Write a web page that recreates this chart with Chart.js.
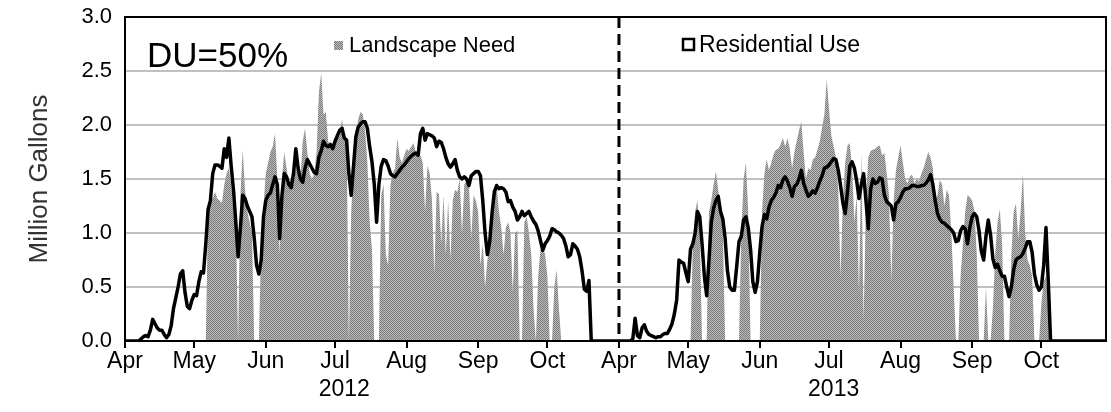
<!DOCTYPE html>
<html>
<head>
<meta charset="utf-8">
<script src="https://cdn.jsdelivr.net/npm/chart.js@4/dist/chart.umd.min.js"></script>
<style>
  html, body { margin: 0; padding: 0; background: #fff; }
  #wrap { width: 1111px; height: 412px; }
</style>
</head>
<body>
<div id="wrap"><canvas id="chart" width="1111" height="412"></canvas></div>
<script>
// Shared day axis: 1 Apr - 31 Oct 2012 (days 0-213), then 1 Apr 2013 onward (day 214+)
const seasonStart2013 = 214;
const axisEnd = 425;

const monthTicks  = [0, 30, 61, 91, 122, 153, 183, 214, 244, 275, 305, 336, 367, 397];
const monthLabels = ['Apr', 'May', 'Jun', 'Jul', 'Aug', 'Sep', 'Oct', 'Apr', 'May', 'Jun', 'Jul', 'Aug', 'Sep', 'Oct'];
const yearTicks   = [95, 307];
const yearLabels  = ['2012', '2013'];

// Daily landscape water need, million gallons (2012 season)
const need2012 = [
  0,0,0,0,0,0,0,0,0,0,
  0,0,0,0,0,0,0,0,0,0,
  0,0,0,0,0,0,0,0,0,0,
  0,0,0,0,0,0,1.2,1.3,1.32,1.38,
  1.32,1.3,1.28,1.45,1.55,1.6,1.45,1.2,1.1,0,
  1.35,1.77,1.4,1.2,1.1,1.0,0,0,0,0.9,
  1.25,1.55,1.65,1.75,1.8,1.92,1.5,0.8,1.5,1.75,
  1.6,1.45,1.5,1.45,1.62,1.55,1.5,1.85,1.97,1.75,
  1.55,1.5,1.55,1.75,2.3,2.48,2.1,2.12,1.85,1.8,
  1.82,1.85,1.88,1.9,2.05,1.92,1.85,0,1.2,1.6,
  1.85,2.05,2.12,2.1,1.95,1.65,1.1,0.85,0,0,
  0,1.35,1.45,0.8,0.7,1.45,1.55,1.6,1.88,1.7,
  1.65,1.72,1.78,1.76,1.8,1.83,1.75,1.7,1.72,1.65,
  1.2,1.62,1.55,1.3,0.62,1.38,1.36,0.9,1.35,0.8,
  1.3,0.75,1.3,1.4,1.38,1.5,1.0,1.45,1.48,1.45,
  0.95,1.35,1.3,1.2,0.7,0.9,0.5,0.75,0.85,1.1,
  1.35,1.45,1.2,1.05,0.8,1.05,1.1,1.0,0.45,1.0,
  1.02,0,0,1.1,1.15,1.0,0.8,0.3,0,0.6,
  0.85,0.87,0.8,0.6,0,0,0.5,0.66,0.3,0,
  0,0,0,0,0,0,0,0,0,0,
  0,0,0,0,0,0,0,0,0,0,
  0,0,0,0
];

// Daily residential water use, million gallons (2012 season)
const use2012 = [
  0,0,0,0,0,0,0,0.02,0.04,0.05,
  0.04,0.1,0.2,0.16,0.12,0.1,0.1,0.06,0.03,0.06,
  0.14,0.3,0.4,0.5,0.62,0.65,0.45,0.32,0.3,0.38,
  0.43,0.42,0.55,0.64,0.63,0.9,1.22,1.3,1.55,1.63,
  1.63,1.62,1.6,1.78,1.7,1.88,1.62,1.4,1.1,0.78,
  1.05,1.35,1.32,1.25,1.2,1.15,0.95,0.7,0.62,0.75,
  1.15,1.3,1.35,1.37,1.45,1.52,1.45,0.95,1.35,1.55,
  1.52,1.45,1.42,1.55,1.78,1.6,1.5,1.47,1.6,1.68,
  1.64,1.6,1.56,1.55,1.7,1.76,1.85,1.81,1.8,1.82,
  1.78,1.85,1.9,1.95,1.97,1.88,1.86,1.55,1.35,1.62,
  1.89,1.98,2.01,2.03,2.03,1.97,1.8,1.66,1.45,1.1,
  1.45,1.62,1.68,1.67,1.62,1.55,1.53,1.52,1.55,1.58,
  1.61,1.63,1.66,1.69,1.71,1.73,1.74,1.72,1.92,1.97,
  1.86,1.92,1.91,1.9,1.88,1.8,1.85,1.84,1.78,1.7,
  1.64,1.61,1.64,1.68,1.58,1.52,1.5,1.52,1.5,1.44,
  1.53,1.55,1.57,1.57,1.53,1.3,1.0,0.8,0.92,1.18,
  1.38,1.44,1.41,1.42,1.41,1.38,1.29,1.3,1.24,1.2,
  1.12,1.15,1.2,1.16,1.18,1.2,1.15,1.11,1.08,1.02,
  0.93,0.84,0.9,0.93,0.97,1.04,1.03,1.01,1.0,0.98,
  0.95,0.88,0.78,0.8,0.9,0.88,0.85,0.78,0.65,0.48,
  0.46,0.56,0,0,0,0,0,0,0,0,
  0,0,0,0
];

// Daily landscape water need, million gallons (2013 season)
const need2013 = [
  0,0,0,0,0,0,0,0,0,0,
  0,0,0,0,0,0,0,0,0,0,
  0,0,0,0,0,0,0,0,0,0,
  0,0,0.9,1.2,1.3,1.0,0,0,0,1.2,
  1.3,1.45,1.57,1.4,1.25,1.0,0,0,0,0,
  0,0,0,1.0,1.5,1.65,1.2,0,0,0,
  0,0,1.2,1.55,1.68,1.58,1.65,1.73,1.77,1.78,
  1.82,1.88,1.8,1.88,1.78,1.6,1.75,1.85,1.95,2.03,
  1.75,1.5,1.6,1.58,1.68,1.7,1.77,1.85,1.98,2.1,
  2.42,2.15,1.9,1.8,1.7,1.4,0.6,1.3,1.65,1.81,
  1.83,1.6,1.1,1.35,0.45,1.75,0.19,1.3,1.7,1.76,
  1.77,1.78,1.8,1.81,1.72,1.74,1.55,1.35,0.55,1.3,
  1.58,1.7,1.81,1.65,1.5,1.46,1.52,1.54,1.46,1.5,
  1.48,1.55,1.6,1.68,1.75,1.7,1.6,1.3,1.35,1.49,
  1.45,1.25,1.4,1.35,1.0,0.5,0,0,0.6,0.9,
  1.2,1.35,1.33,1.3,1.2,0.8,0,0,0,0.5,
  0,0,0.3,0.8,1.1,1.22,0.9,0,0,0,
  0.8,1.2,1.27,0.95,1.2,1.55,1.0,0.75,0.7,0.6,
  0,0,0,0.35,0.55,0.6,0.3,0,0,0,
  0,0,0,0,0,0,0,0,0,0,
  0,0,0,0,0,0,0,0,0,0,
  0,0
];

// Daily residential water use, million gallons (2013 season)
const use2013 = [
  0,0,0,0,0,0,0.02,0.21,0.05,0.03,
  0.12,0.15,0.09,0.06,0.05,0.04,0.03,0.04,0.04,0.06,
  0.07,0.07,0.11,0.16,0.25,0.38,0.75,0.73,0.72,0.63,
  0.55,0.85,0.9,1.0,1.2,1.15,0.9,0.6,0.42,0.75,
  1.1,1.23,1.3,1.34,1.2,1.13,0.95,0.65,0.5,0.47,
  0.47,0.69,0.92,0.97,1.12,1.15,1.05,0.85,0.55,0.45,
  0.55,0.82,1.06,1.17,1.13,1.24,1.3,1.33,1.37,1.44,
  1.42,1.49,1.52,1.48,1.42,1.34,1.43,1.45,1.5,1.58,
  1.46,1.4,1.34,1.36,1.39,1.37,1.42,1.48,1.53,1.6,
  1.61,1.63,1.66,1.69,1.68,1.58,1.44,1.28,1.18,1.38,
  1.62,1.66,1.6,1.48,1.32,1.45,1.55,1.3,1.04,1.4,
  1.5,1.46,1.47,1.51,1.5,1.35,1.29,1.27,1.25,1.12,
  1.27,1.29,1.33,1.38,1.41,1.41,1.42,1.44,1.44,1.43,
  1.43,1.44,1.44,1.46,1.49,1.54,1.45,1.3,1.18,1.13,
  1.1,1.09,1.07,1.05,1.03,1.0,0.92,0.93,1.02,1.06,
  1.04,0.9,1.05,1.15,1.18,1.15,1.02,0.83,0.75,0.97,
  1.12,0.98,0.76,0.68,0.71,0.65,0.6,0.6,0.5,0.41,
  0.5,0.66,0.75,0.77,0.78,0.81,0.86,0.92,0.92,0.82,
  0.62,0.52,0.47,0.5,0.7,1.05,0.55,0,0,0,
  0,0,0,0,0,0,0,0,0,0,
  0,0,0,0,0,0,0,0,0,0,
  0,0
];

const FONT = "'Liberation Sans', Arial, sans-serif";
Chart.defaults.font.family = FONT;

const canvas = document.getElementById('chart');
const ctx = canvas.getContext('2d');

// Fine dotted grey fill for the landscape-need area
function dotPattern() {
  const tile = document.createElement('canvas');
  tile.width = 2; tile.height = 2;
  const g = tile.getContext('2d');
  g.fillStyle = '#bdbdbd'; g.fillRect(0, 0, 2, 2);
  g.fillStyle = '#7a7a7a'; g.fillRect(0, 0, 1, 1); g.fillRect(1, 1, 1, 1);
  return ctx.createPattern(tile, 'repeat');
}
const needFill = dotPattern();

const toPoints = (values, offset) => values.map((v, i) => ({ x: i + offset, y: v }));
const needPoints = toPoints(need2012, 0).concat(toPoints(need2013, seasonStart2013));
const usePoints  = toPoints(use2012, 0).concat(toPoints(use2013, seasonStart2013));

// Plot frame, in-plot legend and the DU annotation
const overlay = {
  id: 'overlay',
  afterDatasetsDraw(chart) {
    const { ctx: c, chartArea: a } = chart;
    c.save();
    c.strokeStyle = '#000';
    c.lineWidth = 2;
    c.strokeRect(a.left, a.top, a.right - a.left, a.bottom - a.top);
    c.restore();
  },
  afterDraw(chart) {
    const { ctx: c, chartArea: a } = chart;
    const ds = chart.data.datasets;
    c.save();
    c.fillStyle = '#000';
    c.textBaseline = 'alphabetic';
    c.font = '35px ' + FONT;
    c.fillText('DU=50%', a.left + 22, a.top + 50);

    c.textBaseline = 'middle';
    c.font = '22px ' + FONT;
    c.fillStyle = needFill;
    c.fillRect(a.left + 209, a.top + 24, 9, 9);
    c.fillStyle = '#000';
    c.fillText(ds[1].label, a.left + 224, a.top + 29);

    c.font = '23px ' + FONT;
    c.strokeStyle = '#000';
    c.lineWidth = 2.5;
    c.fillStyle = '#fff';
    c.fillRect(a.left + 558, a.top + 22, 11, 11);
    c.strokeRect(a.left + 558, a.top + 22, 11, 11);
    c.fillStyle = '#000';
    c.fillText(ds[0].label, a.left + 574, a.top + 29);
    c.restore();
  }
};

new Chart(ctx, {
  type: 'line',
  data: {
    datasets: [
      {
        label: 'Residential Use',
        data: usePoints,
        borderColor: '#000',
        borderWidth: 3.5,
        borderJoinStyle: 'round',
        pointRadius: 0,
        fill: false,
        tension: 0,
        order: 0
      },
      {
        label: 'Landscape Need',
        data: needPoints,
        backgroundColor: needFill,
        borderWidth: 0,
        pointRadius: 0,
        fill: 'origin',
        tension: 0,
        order: 2
      },
      {
        label: 'season divider',
        data: [{ x: seasonStart2013, y: 3 }, { x: seasonStart2013, y: 0 }],
        borderColor: '#000',
        borderWidth: 3,
        borderDash: [11, 6],
        pointRadius: 0,
        fill: false,
        order: 1
      }
    ]
  },
  options: {
    responsive: false,
    animation: false,
    devicePixelRatio: 1,
    layout: { padding: { left: 0, right: 5, top: 17, bottom: 0 } },
    plugins: { legend: { display: false }, tooltip: { enabled: false } },
    scales: {
      x: {
        type: 'linear',
        position: 'bottom',
        min: 0,
        max: axisEnd,
        afterBuildTicks: s => { s.ticks = monthTicks.map(v => ({ value: v })); },
        afterFit: s => { s.height = 32; },
        ticks: {
          autoSkip: false,
          maxRotation: 0,
          padding: 0,
          color: '#000',
          font: { size: 23 },
          callback: (v, i) => monthLabels[i]
        },
        grid: { drawOnChartArea: false, drawTicks: true, tickLength: 7, color: '#000', lineWidth: 2 },
        border: { display: false }
      },
      year: {
        type: 'linear',
        position: 'bottom',
        min: 0,
        max: axisEnd,
        afterBuildTicks: s => { s.ticks = yearTicks.map(v => ({ value: v })); },
        afterFit: s => { s.height = 39; },
        ticks: {
          autoSkip: false,
          maxRotation: 0,
          padding: 3,
          color: '#000',
          font: { size: 23 },
          callback: (v, i) => yearLabels[i]
        },
        grid: { display: false, drawTicks: false },
        border: { display: false }
      },
      y: {
        min: 0,
        max: 3,
        afterFit: s => { s.width = 125; s.paddingTop = 0; s.paddingBottom = 0; },
        ticks: {
          stepSize: 0.5,
          padding: 13,
          color: '#000',
          font: { size: 22 },
          callback: v => v.toFixed(1)
        },
        grid: { color: '#c0c0c0', lineWidth: 2, drawTicks: false },
        border: { display: false },
        title: {
          display: true,
          text: 'Million Gallons',
          color: '#333',
          font: { size: 26 },
          padding: { top: 24, bottom: 0 }
        }
      }
    }
  },
  plugins: [overlay]
});
</script>
</body>
</html>
